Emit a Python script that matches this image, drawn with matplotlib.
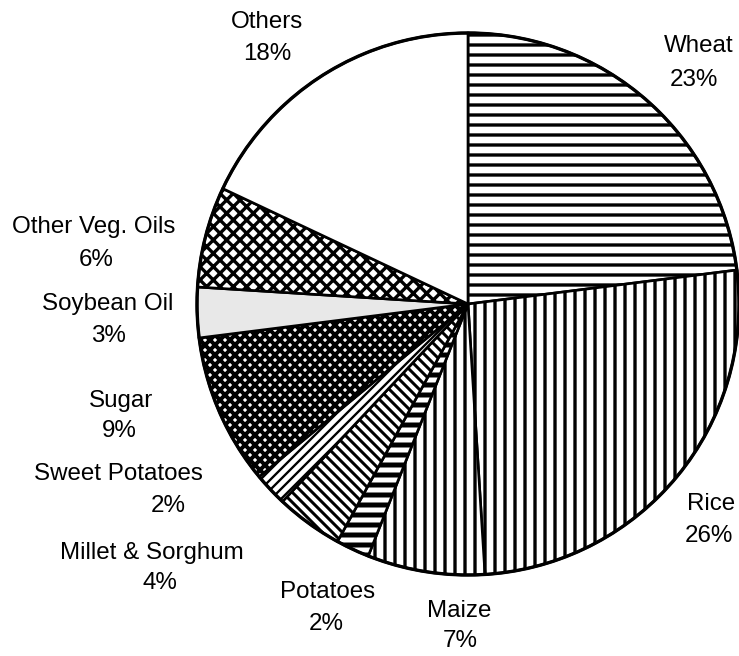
import matplotlib
matplotlib.use('Agg')
import matplotlib.pyplot as plt
from matplotlib.patches import Circle

# Share of dietary energy by food source (%)
foods = ['Wheat', 'Rice', 'Maize', 'Potatoes', 'Millet & Sorghum',
         'Sweet Potatoes', 'Sugar', 'Soybean Oil', 'Other Veg. Oils', 'Others']
shares = [23, 26, 7, 2, 4, 2, 9, 3, 6, 18]

# fill styles: (facecolor, hatch, hatch linewidth in pt)
styles = [
    ('white', '--', 2.0),
    ('white', '||', 2.0),
    ('white', '||', 2.0),
    ('white', '--', 3.0),
    ('white', '\\\\\\\\', 1.8),
    ('white', '////', 1.4),
    ('white', 'xxxx', 2.4),
    ('#e8e8e8', '', 1.0),
    ('white', 'xxx', 2.0),
    ('white', '', 1.0),
]

# label text positions in pixels from the top-left: (name x, name y, pct x, pct y)
label_pos = [
    (699, 46, 694, 80),
    (711, 504, 709, 536),
    (459, 611, 460, 641),
    (328, 592, 326, 624),
    (152, 553, 160, 583),
    (118, 474, 168, 506),
    (121, 401, 119, 431),
    (108, 304, 108, 336),
    (94, 227, 96, 260),
    (267, 22, 267, 54),
]

W, H = 739, 656
DPI = 120
plt.rcParams['font.family'] = ['Liberation Sans', 'DejaVu Sans']

fig = plt.figure(figsize=(W / DPI, H / DPI), dpi=DPI)
ax = fig.add_axes([0, 0, 1, 1])

cx, cy, r = 468, H - 304, 271
wedges, _ = ax.pie(shares, startangle=90, counterclock=False,
                   center=(cx, cy), radius=r,
                   wedgeprops=dict(edgecolor='black', linewidth=1.6))

for w, (fc, hatch, hlw) in zip(wedges, styles):
    w.set_facecolor(fc)
    if hatch:
        w.set_hatch(hatch)
        if hasattr(w, 'set_hatch_linewidth'):
            w.set_hatch_linewidth(hlw)
        else:
            w._hatch_linewidth = hlw

ax.add_patch(Circle((cx, cy), r, fill=False, edgecolor='black', linewidth=2.0, zorder=5))

for name, pct, (nx, ny, px, py) in zip(foods, shares, label_pos):
    ax.text(nx, H - ny, name, ha='center', va='center', fontsize=14.5)
    ax.text(px, H - py, f'{pct}%', ha='center', va='center', fontsize=14.5)

ax.set_xlim(0, W)
ax.set_ylim(0, H)
ax.set_aspect('auto')
ax.axis('off')

fig.savefig('out.png', dpi=DPI)
